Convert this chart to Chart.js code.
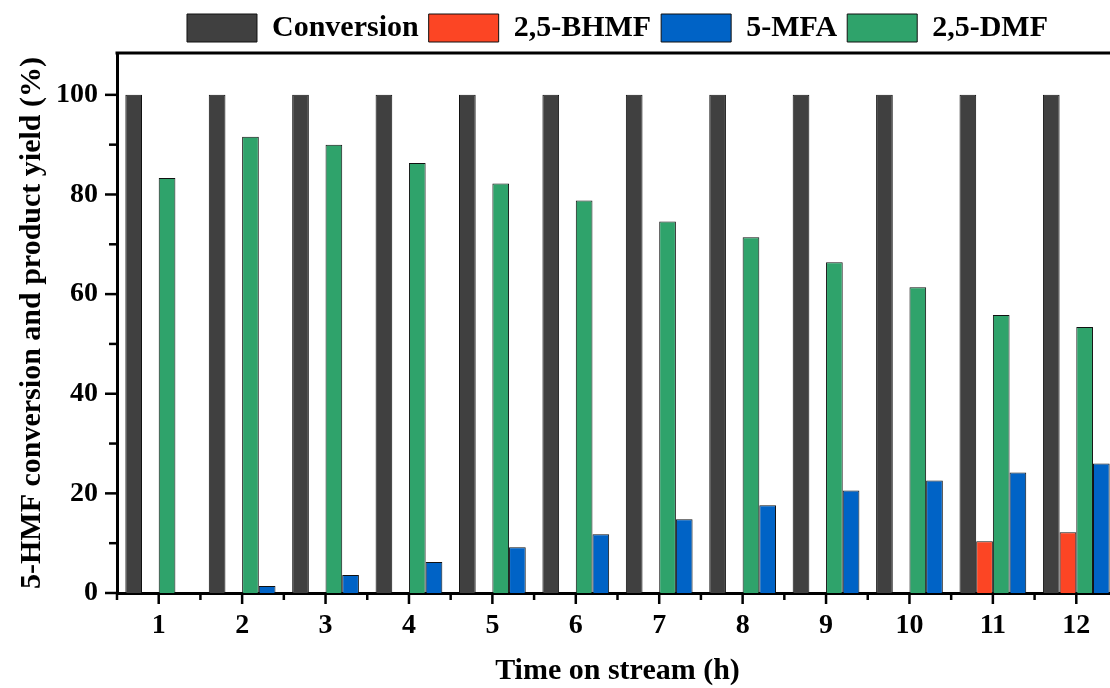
<!DOCTYPE html>
<html>
<head>
<meta charset="utf-8">
<script src="https://cdn.jsdelivr.net/npm/chart.js@4.4.1/dist/chart.umd.min.js"></script>
<style>
  html, body { margin: 0; padding: 0; background: #fff; overflow: hidden; }
  #wrap { width: 1124px; height: 688px; }
</style>
</head>
<body>
<div id="wrap"><canvas id="chart" width="1124" height="688"></canvas></div>
<script>
(function() {
  'use strict';

  var HOURS      = ['1', '2', '3', '4', '5', '6', '7', '8', '9', '10', '11', '12'];
  var CONVERSION = [100, 100, 100, 100, 100, 100, 100, 100, 100, 100, 100, 100];
  var BHMF       = [0, 0, 0, 0, 0, 0, 0, 0, 0, 0, 10.4, 12.2];
  var DMF        = [83.3, 91.6, 90.0, 86.3, 82.2, 78.8, 74.6, 71.4, 66.4, 61.4, 55.8, 53.4];
  var MFA        = [0, 1.4, 3.6, 6.2, 9.2, 11.8, 14.8, 17.6, 20.6, 22.6, 24.2, 26.0];
  var Y_LABELS   = [0, 20, 40, 60, 80, 100];
  var Y_MINOR    = [10, 30, 50, 70, 90];
  // legend lists 5-MFA before 2,5-DMF, bars draw DMF first
  var LEGEND_ORDER = ['Conversion', '2,5-BHMF', '5-MFA', '2,5-DMF'];

  var DARK  = '#404040';
  var RED   = '#fc4524';
  var BLUE  = '#0063c6';
  var GREEN = '#2fa36b';
  var EDGE  = '#111111';

  var FONT_SERIF = "'Liberation Serif', 'Times New Roman', serif";

  function bar(label, data, color) {
    return {
      label: label,
      data: data,
      backgroundColor: color,
      borderColor: EDGE,
      borderWidth: 1,
      categoryPercentage: 0.8,
      barPercentage: 1.0
    };
  }

  // frame top line and the tick marks, major and minor
  var axisTicks = {
    id: 'axisTicks',
    afterDraw: function(chart) {
      var ctx = chart.ctx;
      var area = chart.chartArea;
      var xs = chart.scales.x;
      var ys = chart.scales.y;
      function seg(x1, y1, x2, y2) {
        ctx.beginPath(); ctx.moveTo(x1, y1); ctx.lineTo(x2, y2); ctx.stroke();
      }
      ctx.save();
      ctx.strokeStyle = '#000';
      ctx.lineWidth = 3;
      seg(area.left - 1.5, area.top, area.right + 2, area.top);

      ctx.lineWidth = 2.5;
      Y_LABELS.forEach(function(v) {
        var py = ys.getPixelForValue(v);
        seg(area.left - 12, py, area.left, py);
      });
      Y_MINOR.forEach(function(v) {
        var py = ys.getPixelForValue(v);
        seg(area.left - 8, py, area.left, py);
      });

      var half = (xs.getPixelForValue(1) - xs.getPixelForValue(0)) / 2;
      for (var i = 0; i < HOURS.length; i++) {
        var px = xs.getPixelForValue(i);
        seg(px, area.bottom, px, area.bottom + 11);
        seg(px - half, area.bottom, px - half, area.bottom + 7);
      }
      seg(xs.getPixelForValue(HOURS.length - 1) + half, area.bottom,
          xs.getPixelForValue(HOURS.length - 1) + half, area.bottom + 7);
      ctx.restore();
    }
  };

  new Chart(document.getElementById('chart'), {
    type: 'bar',
    data: {
      labels: HOURS,
      datasets: [
        bar('Conversion', CONVERSION, DARK),
        bar('2,5-BHMF', BHMF, RED),
        bar('2,5-DMF', DMF, GREEN),
        bar('5-MFA', MFA, BLUE)
      ]
    },
    plugins: [axisTicks],
    options: {
      responsive: false,
      animation: false,
      layout: { padding: { top: 3, right: 6, left: 0, bottom: 0 } },
      plugins: {
        legend: {
          position: 'top',
          fullSize: false,
          labels: {
            boxWidth: 70,
            boxHeight: 28,
            padding: 10,
            color: '#000',
            font: { family: FONT_SERIF, size: 30, weight: 'bold' },
            sort: function(a, b) {
              return LEGEND_ORDER.indexOf(a.text) - LEGEND_ORDER.indexOf(b.text);
            }
          }
        },
        tooltip: { enabled: false }
      },
      scales: {
        x: {
          z: 1,
          offset: true,
          grid: { display: false, drawTicks: false },
          border: { display: true, color: '#000', width: 3 },
          ticks: {
            color: '#000',
            padding: 16,
            maxRotation: 0,
            font: { family: FONT_SERIF, size: 28, weight: 'bold' }
          },
          title: {
            display: true,
            text: 'Time on stream (h)',
            color: '#000',
            padding: { top: 0, bottom: 0 },
            font: { family: FONT_SERIF, size: 30, weight: 'bold', lineHeight: 1.1 }
          },
          afterFit: function(scale) { scale.height = 95; }
        },
        y: {
          z: 1,
          min: 0,
          max: 108.4,
          grid: { display: false, drawTicks: false },
          border: { display: true, color: '#000', width: 3 },
          ticks: {
            stepSize: 20,
            color: '#000',
            padding: 19,
            font: { family: FONT_SERIF, size: 28, weight: 'bold' },
            callback: function(v) { return Y_LABELS.indexOf(v) >= 0 ? v : ''; }
          },
          title: {
            display: true,
            text: '5-HMF conversion and product yield (%)',
            color: '#000',
            padding: { top: 14, bottom: 0 },
            font: { family: FONT_SERIF, size: 30, weight: 'bold' }
          },
          afterFit: function(scale) { scale.width = 117; }
        }
      }
    }
  });
})();
</script>
</body>
</html>
